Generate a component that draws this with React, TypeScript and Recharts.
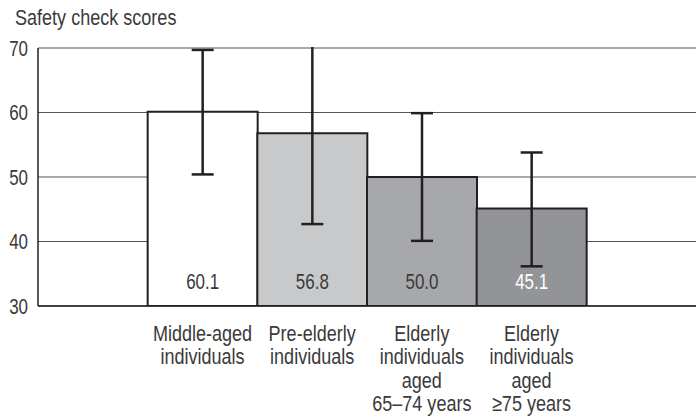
import React from "react";
import { BarChart, Bar, XAxis, YAxis, CartesianGrid, ErrorBar, Cell, LabelList } from "recharts";

const categories = [
  "Middle-aged\nindividuals",
  "Pre-elderly\nindividuals",
  "Elderly\nindividuals\naged\n65–74 years",
  "Elderly\nindividuals\naged\n≥75 years",
];
const scores = [60.1, 56.8, 50.0, 45.1];
const errors = [
  [9.7, 9.6],
  [14.1, 14.1],
  [9.9, 9.9],
  [8.95, 8.7],
];
const yTicks = [30, 40, 50, 60, 70];
const title = "Safety check scores";

const fills = ["#ffffff", "#c8c9cb", "#a7a8ab", "#939497"];
const labelColors = ["#3a3a3a", "#3a3a3a", "#3a3a3a", "#ffffff"];
const FONT = "'Liberation Sans', Arial, sans-serif";
const INK = "#231f20";
const TEXT = "#3a3a3a";
const TXT_SCALE = 0.82;
const NUM_SCALE = 0.77;

const data = categories.map((c, i) => ({ name: c, score: scores[i], err: errors[i] }));

const XTick = (props: any) => {
  const { x, y, payload } = props;
  const lines = String(payload.value).split("\n");
  return (
    <g transform={`translate(${x},${y}) scale(${TXT_SCALE},1)`}>
      <text x={0} y={0} textAnchor="middle" fill={TEXT} fontFamily={FONT} fontSize={22}>
        {lines.map((l, i) => (
          <tspan key={i} x={0} dy={i === 0 ? 27 : 23.4}>
            {l}
          </tspan>
        ))}
      </text>
    </g>
  );
};

const YTick = (props: any) => {
  const { x, y, payload } = props;
  return (
    <g transform={`translate(${x},${y}) scale(${NUM_SCALE},1)`}>
      <text x={0} y={0} dy="0.355em" textAnchor="end" fill={TEXT} fontFamily={FONT} fontSize={22}>
        {payload.value}
      </text>
    </g>
  );
};

const BarValue = (props: any) => {
  const { x, y, width, height, value, index } = props;
  return (
    <g transform={`translate(${x + width / 2},${y + height - 17}) scale(${NUM_SCALE},1)`}>
      <text x={0} y={0} textAnchor="middle" fill={labelColors[index]} fontFamily={FONT} fontSize={22}>
        {Number(value).toFixed(1)}
      </text>
    </g>
  );
};

export default function App() {
  return (
    <div style={{ position: "absolute", left: 0, top: 0, width: 696, height: 418, background: "#fff" }}>
      <BarChart
        width={696}
        height={418}
        data={data}
        margin={{ top: 48, right: 0, left: 0, bottom: 0 }}
        barCategoryGap={0}
      >
        <CartesianGrid horizontal vertical={false} stroke="#555" strokeWidth={1.2} />
        <XAxis
          dataKey="name"
          height={112}
          padding={{ left: 109.67, right: 109.67 }}
          axisLine={{ stroke: INK, strokeWidth: 1.5 }}
          tickLine={false}
          interval={0}
          tick={<XTick />}
        />
        <YAxis
          width={38}
          domain={[30, 70]}
          ticks={yTicks}
          allowDataOverflow
          axisLine={{ stroke: INK, strokeWidth: 1.5 }}
          tickLine={false}
          tickMargin={4}
          tick={<YTick />}
        />
        <Bar dataKey="score" isAnimationActive={false} stroke={INK} strokeWidth={2}>
          {data.map((d, i) => (
            <Cell key={i} fill={fills[i]} />
          ))}
          <ErrorBar dataKey="err" width={11} stroke={INK} strokeWidth={2.5} isAnimationActive={false} />
          <LabelList dataKey="score" content={<BarValue />} />
        </Bar>
      </BarChart>
      {/* mask clipping whiskers that run past the top of the plot area */}
      <div style={{ position: "absolute", left: 38, top: 34, width: 658, height: 13.3, background: "#fff" }} />
      <div
        style={{
          position: "absolute",
          left: 15,
          top: 5,
          fontFamily: FONT,
          fontSize: 22,
          color: TEXT,
          lineHeight: "26px",
          whiteSpace: "nowrap",
          transform: `scaleX(${TXT_SCALE})`,
          transformOrigin: "left top",
        }}
      >
        {title}
      </div>
    </div>
  );
}
